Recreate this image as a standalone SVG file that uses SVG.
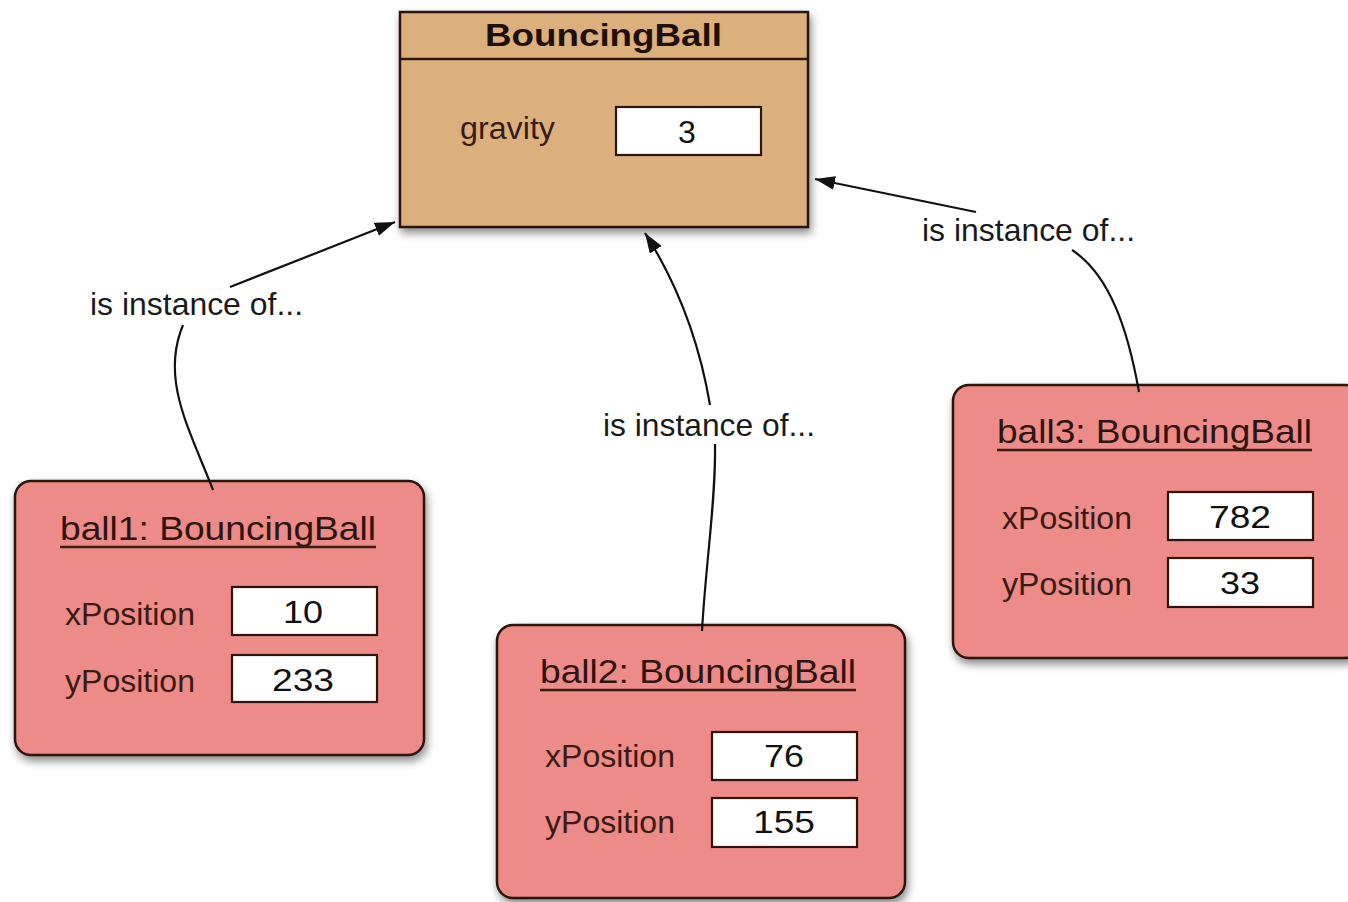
<svg xmlns="http://www.w3.org/2000/svg" width="1348" height="902" viewBox="0 0 1348 902">
  <style>
    text { font-family: "Liberation Sans", Arial, sans-serif; }
    .cls { fill: #dcb07b; stroke: #2b140e; stroke-width: 2.5; }
    .obj { fill: #ec8b87; stroke: #2b140e; stroke-width: 2.5; }
    .val { fill: #ffffff; stroke: #2b140e; stroke-width: 2.2; }
    .title { font-size: 32px; font-weight: bold; fill: #1e0f0a; }
    .name { font-size: 33px; fill: #2e1410; }
    .attr { font-size: 31px; fill: #3a1a14; }
    .num { font-size: 32px; fill: #111111; text-anchor: middle; }
    .uline { stroke: #3a1a14; stroke-width: 2.5; }
    .lbl { font-size: 32px; fill: #1a1a1a; }
    .conn { fill: none; stroke: #111111; stroke-width: 2.2; }
  </style>
  <defs>
    <filter id="shadow" x="-10%" y="-10%" width="125%" height="130%">
      <feDropShadow dx="2" dy="5" stdDeviation="4" flood-color="#000000" flood-opacity="0.45"/>
    </filter>
    <marker id="arrow" markerUnits="userSpaceOnUse" markerWidth="22" markerHeight="16" refX="20" refY="7" orient="auto">
      <path d="M0,0 L20,7 L0,14 z" fill="#111111"/>
    </marker>
  </defs>

  <rect width="1348" height="902" fill="#ffffff"/>

  <!-- class box -->
  <g id="class-bouncingball">
    <rect class="cls" x="400" y="12" width="408" height="215" filter="url(#shadow)"/>
    <line x1="400" y1="59" x2="808" y2="59" stroke="#2b140e" stroke-width="2.5"/>
    <text class="title" x="485" y="46" textLength="237" lengthAdjust="spacingAndGlyphs">BouncingBall</text>
    <text class="attr" x="460" y="139" textLength="95" lengthAdjust="spacingAndGlyphs">gravity</text>
    <rect class="val" x="616" y="107" width="145" height="48"/>
    <text class="num" x="687" y="143">3</text>
  </g>

  <!-- object ball1 -->
  <g id="ball1">
    <rect class="obj" x="15" y="481" width="409" height="274" rx="16" filter="url(#shadow)"/>
    <text class="name" x="60" y="540" textLength="316" lengthAdjust="spacingAndGlyphs">ball1: BouncingBall</text>
    <line class="uline" x1="60" y1="547" x2="376" y2="547"/>
    <text class="attr" x="65" y="625" textLength="130" lengthAdjust="spacingAndGlyphs">xPosition</text>
    <rect class="val" x="232" y="587" width="145" height="48"/>
    <text class="num" x="303" y="623" textLength="40" lengthAdjust="spacingAndGlyphs">10</text>
    <text class="attr" x="65" y="692" textLength="130" lengthAdjust="spacingAndGlyphs">yPosition</text>
    <rect class="val" x="232" y="655" width="145" height="47"/>
    <text class="num" x="303" y="691" textLength="62" lengthAdjust="spacingAndGlyphs">233</text>
  </g>

  <!-- object ball2 -->
  <g id="ball2">
    <rect class="obj" x="497" y="625" width="408" height="273" rx="16" filter="url(#shadow)"/>
    <text class="name" x="540" y="683" textLength="316" lengthAdjust="spacingAndGlyphs">ball2: BouncingBall</text>
    <line class="uline" x1="540" y1="690" x2="856" y2="690"/>
    <text class="attr" x="545" y="767" textLength="130" lengthAdjust="spacingAndGlyphs">xPosition</text>
    <rect class="val" x="712" y="732" width="145" height="48"/>
    <text class="num" x="784" y="767" textLength="40" lengthAdjust="spacingAndGlyphs">76</text>
    <text class="attr" x="545" y="833" textLength="130" lengthAdjust="spacingAndGlyphs">yPosition</text>
    <rect class="val" x="712" y="798" width="145" height="49"/>
    <text class="num" x="784" y="833" textLength="62" lengthAdjust="spacingAndGlyphs">155</text>
  </g>

  <!-- object ball3 -->
  <g id="ball3">
    <rect class="obj" x="953" y="385" width="408" height="273" rx="16" filter="url(#shadow)"/>
    <text class="name" x="997" y="443" textLength="315" lengthAdjust="spacingAndGlyphs">ball3: BouncingBall</text>
    <line class="uline" x1="997" y1="450" x2="1312" y2="450"/>
    <text class="attr" x="1002" y="529" textLength="130" lengthAdjust="spacingAndGlyphs">xPosition</text>
    <rect class="val" x="1168" y="492" width="145" height="48"/>
    <text class="num" x="1240" y="528" textLength="62" lengthAdjust="spacingAndGlyphs">782</text>
    <text class="attr" x="1002" y="595" textLength="130" lengthAdjust="spacingAndGlyphs">yPosition</text>
    <rect class="val" x="1168" y="558" width="145" height="49"/>
    <text class="num" x="1240" y="594" textLength="40" lengthAdjust="spacingAndGlyphs">33</text>
  </g>

  <!-- "is instance of..." connectors, each broken around its label -->
  <g id="connectors">
    <path class="conn" d="M213,490 C190,430 160,380 183,325"/>
    <path class="conn" d="M230,287 L395,222" marker-end="url(#arrow)"/>
    <text class="lbl" x="90" y="315" textLength="213" lengthAdjust="spacingAndGlyphs">is instance of...</text>

    <path class="conn" d="M702,631 C706,560 716,500 715,444"/>
    <path class="conn" d="M710,405 Q694,310 645,233" marker-end="url(#arrow)"/>
    <text class="lbl" x="603" y="436" textLength="212" lengthAdjust="spacingAndGlyphs">is instance of...</text>

    <path class="conn" d="M1139,392 C1128,330 1110,275 1072,250"/>
    <path class="conn" d="M976,212 L815,179" marker-end="url(#arrow)"/>
    <text class="lbl" x="922" y="241" textLength="213" lengthAdjust="spacingAndGlyphs">is instance of...</text>
  </g>
</svg>
